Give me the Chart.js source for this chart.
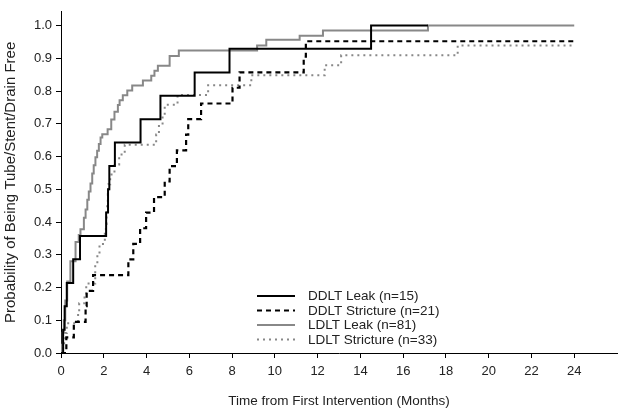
<!DOCTYPE html>
<html>
<head>
<meta charset="utf-8">
<script src="https://cdn.jsdelivr.net/npm/chart.js@4.4.1/dist/chart.umd.min.js"></script>
<style>
  html, body { margin: 0; padding: 0; background: #fff; }
  #chart { display: block; }
</style>
</head>
<body>
<canvas id="chart" width="624" height="415"></canvas>
<script>
'use strict'

// time (months) and probability of being free
const ddltLeakT = [0, 0.1, 0.17, 0.27, 0.57, 0.89, 2.11, 2.2, 2.26, 2.52, 3.72, 4.65, 6.25, 7.88, 14.5, 17.16]
const ddltLeakS = [0, 0.071, 0.143, 0.214, 0.286, 0.357, 0.429, 0.5, 0.571, 0.643, 0.714, 0.786, 0.857, 0.929, 1.0, 1.0]

const ddltStrT = [0, 0.25, 0.6, 1.15, 1.2, 1.5, 3.15, 3.38, 3.7, 3.98, 4.35, 4.85, 5.08, 5.42, 5.85, 5.95, 6.55, 8.02, 8.35, 11.35, 11.45, 24]
const ddltStrS = [0, 0.048, 0.095, 0.143, 0.19, 0.238, 0.286, 0.333, 0.381, 0.429, 0.476, 0.524, 0.571, 0.619, 0.667, 0.714, 0.762, 0.81, 0.857, 0.905, 0.952, 0.952]

const ldltLeakT = [0, 0.03, 0.08, 0.13, 0.2, 0.29, 0.44, 0.68, 0.83, 0.91, 1.07, 1.15, 1.23, 1.3, 1.38, 1.46, 1.53, 1.61, 1.69, 1.77, 1.85, 1.93,
  2.18, 2.35, 2.5, 2.66, 2.74, 2.89, 3.1, 3.33, 3.83, 4.22, 4.37, 4.53, 5.08, 5.51, 9.17, 9.6, 11.16, 12.25, 17.16, 24]
const ldltLeakS = [0, 0.025, 0.062, 0.1, 0.16, 0.218, 0.28, 0.339, 0.36, 0.378, 0.413, 0.438, 0.468, 0.493, 0.518, 0.548, 0.573, 0.598, 0.618, 0.638, 0.658, 0.668,
  0.683, 0.713, 0.737, 0.757, 0.772, 0.787, 0.802, 0.817, 0.832, 0.847, 0.862, 0.877, 0.907, 0.924, 0.939, 0.957, 0.969, 0.985, 1.0, 1.0]

const ldltStrT = [0, 0.1, 0.2, 0.27, 0.8, 0.85, 1.1, 1.18, 1.6, 1.7, 1.8, 2.05, 2.1, 2.13, 2.16, 2.19, 2.22, 2.3, 2.5, 2.72, 2.98,
  4.45, 4.58, 4.75, 4.85, 5.45, 6.88, 8.9, 12.33, 13.1, 18.55, 24]
const ldltStrS = [0, 0.03, 0.061, 0.091, 0.121, 0.152, 0.182, 0.212, 0.273, 0.303, 0.333, 0.364, 0.394, 0.424, 0.455, 0.485, 0.515, 0.545, 0.576, 0.606, 0.636,
  0.667, 0.697, 0.727, 0.758, 0.788, 0.818, 0.848, 0.879, 0.909, 0.939, 0.939]

const seriesNames = ['DDLT Leak (n=15)', 'DDLT Stricture (n=21)', 'LDLT Leak (n=81)', 'LDLT Stricture (n=33)']

const xTicks = [0, 2, 4, 6, 8, 10, 12, 14, 16, 18, 20, 22, 24]
const yTicks = [0, 0.1, 0.2, 0.3, 0.4, 0.5, 0.6, 0.7, 0.8, 0.9, 1.0]

const FONT = '"Liberation Sans", Arial, sans-serif'
const GRAY = '#888'

const pts = (t, s) => t.map((v, i) => ({ x: v, y: s[i] }))

const mk = (label, t, s, color, dash, width) => ({
  label: label,
  data: pts(t, s),
  borderColor: color,
  borderWidth: width,
  borderDash: dash,
  stepped: true,
  pointRadius: 0,
  fill: false,
  tension: 0,
})

const data = {
  datasets: [
    mk(seriesNames[0], ddltLeakT, ddltLeakS, '#000', [], 2),
    mk(seriesNames[1], ddltStrT, ddltStrS, '#000', [5, 4], 2.2),
    mk(seriesNames[2], ldltLeakT, ldltLeakS, GRAY, [], 2),
    mk(seriesNames[3], ldltStrT, ldltStrS, GRAY, [2, 4], 2),
  ]
}

// legend drawn inside the plot, lower middle
const insideLegend = {
  id: 'insideLegend',
  afterDraw(chart) {
    const c = chart.ctx
    const x0 = 257, x1 = 295, tx = 308
    const rows = [296, 310.5, 325, 339.5]
    c.save()
    chart.data.datasets.forEach((ds, i) => {
      c.beginPath()
      c.strokeStyle = ds.borderColor
      c.lineWidth = ds.borderWidth
      c.setLineDash(ds.borderDash)
      c.moveTo(x0, rows[i])
      c.lineTo(x1, rows[i])
      c.stroke()
      c.setLineDash([])
      c.fillStyle = '#222'
      c.font = '13.5px ' + FONT
      c.textBaseline = 'middle'
      c.fillText(ds.label, tx, rows[i] + 0.5)
    })
    c.restore()
  }
}

const tickFont = { family: FONT, size: 13 }

const options = {
  responsive: false,
  animation: false,
  layout: { padding: { top: 5, right: 7, left: 0, bottom: 0 } },
  plugins: { legend: { display: false }, tooltip: { enabled: false } },
  scales: {
    x: {
      type: 'linear',
      min: 0,
      max: 26,
      afterBuildTicks: (s) => { s.ticks = xTicks.map(v => ({ value: v })) },
      afterFit: (s) => { s.height = 62 },
      ticks: { color: '#222', font: tickFont, padding: 6, maxRotation: 0 },
      grid: { drawOnChartArea: false, drawTicks: true, tickLength: 5, color: '#000' },
      border: { display: true, color: '#000', width: 1 },
      title: {
        display: true,
        text: 'Time from First Intervention (Months)',
        color: '#222',
        font: { family: FONT, size: 13.5 },
        padding: { top: 0, bottom: 6 }
      }
    },
    y: {
      min: 0,
      max: 1.042,
      afterBuildTicks: (s) => { s.ticks = yTicks.map(v => ({ value: v })) },
      afterFit: (s) => { s.width = 61 },
      ticks: { color: '#222', font: tickFont, padding: 4, callback: (v) => Number(v).toFixed(1) },
      grid: { drawOnChartArea: false, drawTicks: true, tickLength: 5, color: '#000' },
      border: { display: true, color: '#000', width: 1 },
      title: {
        display: true,
        text: 'Probability of Being Tube/Stent/Drain Free',
        color: '#222',
        font: { family: FONT, size: 15 },
        padding: { top: 2, bottom: 0 }
      }
    }
  }
}

const chart = new Chart(document.getElementById('chart'), {
  type: 'line',
  data: data,
  options: options,
  plugins: [insideLegend]
})
</script>
</body>
</html>
